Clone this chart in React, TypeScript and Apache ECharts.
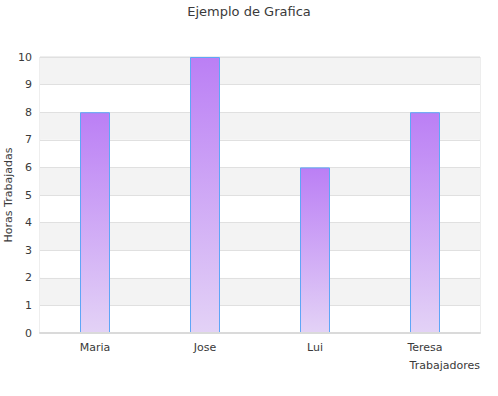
import React, { useEffect, useRef } from "react";
import * as echarts from "echarts";

const titleText = "Ejemplo de Grafica";
const categories = ["Maria", "Jose", "Lui", "Teresa"];
const hours = [8, 10, 6, 8];
const yAxisName = "Horas Trabajadas";
const xAxisName = "Trabajadores";

export default function App() {
  const ref = useRef<HTMLDivElement>(null);
  useEffect(() => {
    if (!ref.current) return;
    const chart = echarts.init(ref.current, undefined, { renderer: "svg" });
    const font = "'DejaVu Sans', sans-serif";
    const txt = "#3a3a3a";
    chart.setOption({
      animation: false,
      textStyle: { fontFamily: font },
      title: {
        text: titleText,
        left: "center",
        top: 0,
        textStyle: { fontSize: 13, fontWeight: "normal", color: txt, fontFamily: font },
      },
      grid: {
        left: 40,
        right: 18,
        top: 57,
        bottom: 63,
        show: true,
        borderColor: "#dcdcdc",
        borderWidth: 1,
        containLabel: false,
        outerBoundsMode: "none",
      },
      xAxis: {
        type: "category",
        data: categories,
        name: xAxisName,
        nameLocation: "end",
        nameGap: 0,
        nameMoveOverlap: false,
        z: 3,
        nameTextStyle: {
          fontSize: 11,
          color: txt,
          align: "right",
          verticalAlign: "top",
          padding: [27, 0, 0, 0],
          fontFamily: font,
        },
        axisLine: { show: true, lineStyle: { color: "#dadada", width: 2 } },
        axisTick: { show: false },
        axisLabel: { fontSize: 11, color: txt, margin: 9, fontFamily: font },
      },
      yAxis: {
        type: "value",
        min: 0,
        max: 10,
        interval: 1,
        name: yAxisName,
        nameLocation: "middle",
        nameGap: 26,
        nameMoveOverlap: false,
        nameTextStyle: { fontSize: 11, color: txt, fontFamily: font },
        axisLine: { show: false },
        axisTick: { show: false },
        axisLabel: { fontSize: 11, color: txt, margin: 8, fontFamily: font },
        splitLine: { show: true, lineStyle: { color: "#e0e0e0" } },
        splitArea: { show: true, areaStyle: { color: ["#ffffff", "#f3f3f3"] } },
      },
      series: [
        {
          type: "bar",
          data: hours,
          barWidth: 30,
          itemStyle: {
            color: new echarts.graphic.LinearGradient(0, 0, 0, 1, [
              { offset: 0, color: "#bb7ff5" },
              { offset: 1, color: "#e3d2f6" },
            ]),
            borderColor: "#5ea6f7",
            borderWidth: 1,
          },
        },
      ],
    });
    return () => chart.dispose();
  }, []);
  return (
    <div
      ref={ref}
      style={{ position: "fixed", left: 0, top: 0, width: 498, height: 396, background: "#fff" }}
    />
  );
}
